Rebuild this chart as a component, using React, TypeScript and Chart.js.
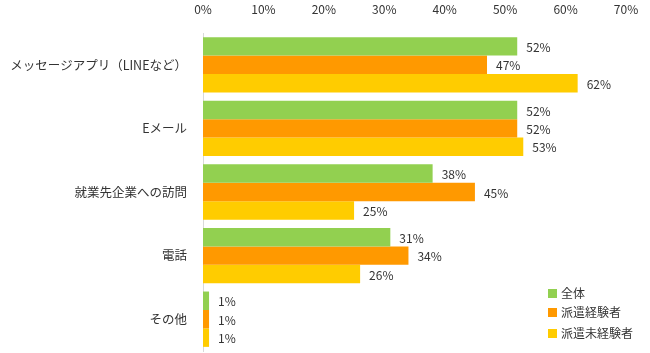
import React, { useEffect, useRef } from "react";
import { Chart, registerables } from "chart.js";

Chart.register(...registerables);

const categories = ["メッセージアプリ（LINEなど）", "Eメール", "就業先企業への訪問", "電話", "その他"];
const seriesNames = ["全体", "派遣経験者", "派遣未経験者"];
const allValues = [52, 52, 38, 31, 1];
const experiencedValues = [47, 52, 45, 34, 1];
const inexperiencedValues = [62, 53, 25, 26, 1];
const colors = ["#92D050", "#FF9900", "#FFCC00"];
const FONT = "'Noto Sans CJK JP', 'Noto Sans', sans-serif";

const valueLabels = {
  id: "valueLabels",
  afterDatasetsDraw(chart: any) {
    const ctx = chart.ctx;
    ctx.save();
    ctx.font = `12px ${FONT}`;
    ctx.fillStyle = "#333333";
    ctx.textAlign = "left";
    ctx.textBaseline = "middle";
    chart.data.datasets.forEach((ds: any, i: number) => {
      const meta = chart.getDatasetMeta(i);
      meta.data.forEach((bar: any, j: number) => {
        ctx.fillText(ds.data[j] + "%", bar.x + 9, bar.y + 1);
      });
    });
    ctx.restore();
  },
};

const customLegend = {
  id: "customLegend",
  afterDraw(chart: any) {
    const ctx = chart.ctx;
    ctx.save();
    ctx.font = `12px ${FONT}`;
    ctx.textAlign = "left";
    ctx.textBaseline = "middle";
    const ys = [293, 312, 333];
    seriesNames.forEach((name, i) => {
      ctx.fillStyle = colors[i];
      ctx.fillRect(548, ys[i] - 4, 9, 9);
      ctx.fillStyle = "#333333";
      ctx.fillText(name, 561, ys[i]);
    });
    ctx.restore();
  },
};

export default function App() {
  const ref = useRef<HTMLCanvasElement>(null);
  useEffect(() => {
    document.body.style.margin = "0";
    const chart = new Chart(ref.current!, {
      type: "bar",
      data: {
        labels: categories,
        datasets: [
          { label: seriesNames[0], data: allValues, backgroundColor: colors[0] },
          { label: seriesNames[1], data: experiencedValues, backgroundColor: colors[1] },
          { label: seriesNames[2], data: inexperiencedValues, backgroundColor: colors[2] },
        ],
      },
      options: {
        indexAxis: "y",
        animation: false,
        responsive: false,
        layout: { padding: { left: 0, right: 24, top: 0, bottom: 2 } },
        datasets: { bar: { categoryPercentage: 0.87, barPercentage: 1 } },
        plugins: { legend: { display: false }, tooltip: { enabled: false } },
        scales: {
          x: {
            position: "top",
            min: 0,
            max: 70,
            ticks: {
              stepSize: 10,
              callback: (v: any) => v + "%",
              color: "#333333",
              font: { size: 12, family: FONT },
              padding: 8,
            },
            grid: { display: false },
            border: { display: false },
            afterFit: (s: any) => { s.height = 33; },
          },
          y: {
            ticks: {
              color: "#333333",
              font: { size: 12.5, family: FONT },
              padding: 8,
            },
            grid: { display: false },
            border: { display: true, color: "#D9D9D9", width: 1 },
            afterFit: (s: any) => {
              s.width = 203;
              s.paddingTop = 0;
              s.paddingBottom = 0;
            },
          },
        },
      },
      plugins: [valueLabels, customLegend],
    } as any);
    return () => chart.destroy();
  }, []);
  return <canvas ref={ref} width={650} height={353} style={{ display: "block" }} />;
}
